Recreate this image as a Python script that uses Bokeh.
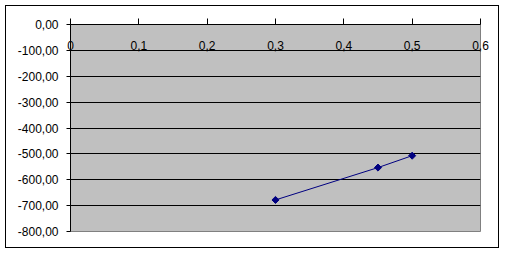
import numpy as np
from bokeh.plotting import figure
from bokeh.models import Range1d, FixedTicker, CustomJSTickFormatter, LinearAxis, ColumnDataSource
from bokeh.embed import file_html
from bokeh.resources import INLINE

# data
x_vals = [0.3, 0.45, 0.5]
y_vals = [-678, -553, -507]
x_ticks = [0, 0.1, 0.2, 0.3, 0.4, 0.5, 0.6]
y_ticks = [0, -100, -200, -300, -400, -500, -600, -700, -800]

FONT = "Liberation Sans"

p = figure(width=492, height=241, output_backend="svg", toolbar_location=None,
           x_range=Range1d(0, 0.6), y_range=Range1d(-800, 0),
           x_axis_location=None,
           min_border_left=64, min_border_right=20, min_border_top=18, min_border_bottom=18,
           margin=(5, 0, 0, 5))
p.styles = {"border": "1px solid black", "box-sizing": "content-box"}

p.background_fill_color = "#C0C0C0"
p.border_fill_color = "white"
p.outline_line_color = "#808080"

# y grid
p.xgrid.visible = False
p.ygrid.ticker = FixedTicker(ticks=y_ticks)
p.ygrid.grid_line_color = "black"
p.ygrid.grid_line_width = 1

# y axis
yax = p.yaxis[0]
yax.ticker = FixedTicker(ticks=y_ticks)
yax.formatter = CustomJSTickFormatter(code="return tick.toFixed(2).replace('.', ',');")
yax.axis_line_color = "black"
yax.major_tick_line_color = "black"
yax.major_tick_out = 4
yax.major_tick_in = 0
yax.minor_tick_line_color = None
yax.major_label_standoff = 8
yax.major_label_text_font = FONT
yax.major_label_text_font_size = "12px"
yax.major_label_text_color = "black"

# x axis along the top (y = 0), labels hanging below the line
xax = LinearAxis(
    ticker=FixedTicker(ticks=x_ticks),
    formatter=CustomJSTickFormatter(
        code="if (Math.abs(tick) < 1e-9) { return '0'; } return tick.toFixed(1).replace('.', ',');"),
    axis_line_color="black", major_tick_line_color="black",
    major_tick_out=6, major_tick_in=0, minor_tick_line_color=None,
    major_label_standoff=-31,
    major_label_text_font=FONT, major_label_text_font_size="12px",
    major_label_text_color="black")
p.add_layout(xax, "above")

src = ColumnDataSource(data=dict(x=x_vals, y=y_vals))
p.line("x", "y", source=src, line_color="#000080", line_width=1)
p.scatter("x", "y", source=src, marker="square", angle=np.pi / 4, size=5,
          fill_color="#000080", line_color="#000080")

open("out.html", "w").write(file_html(p, INLINE))
